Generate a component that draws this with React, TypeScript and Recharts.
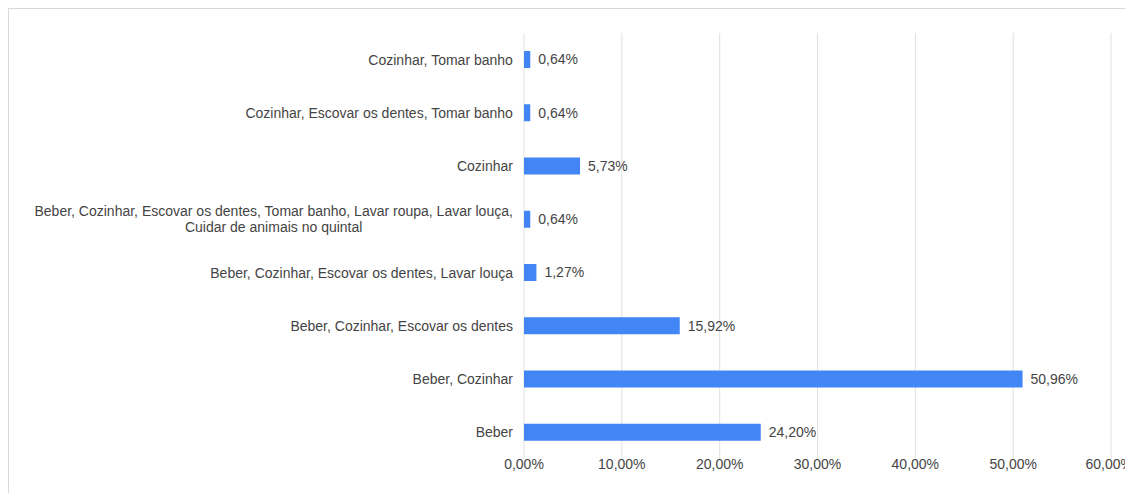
import React from 'react';
import {
  BarChart,
  Bar,
  XAxis,
  YAxis,
  CartesianGrid,
  LabelList,
} from 'recharts';

const categories = [
  'Cozinhar, Tomar banho',
  'Cozinhar, Escovar os dentes, Tomar banho',
  'Cozinhar',
  'Beber, Cozinhar, Escovar os dentes, Tomar banho, Lavar roupa, Lavar louça, Cuidar de animais no quintal',
  'Beber, Cozinhar, Escovar os dentes, Lavar louça',
  'Beber, Cozinhar, Escovar os dentes',
  'Beber, Cozinhar',
  'Beber',
];

const shares = [0.64, 0.64, 5.73, 0.64, 1.27, 15.92, 50.96, 24.2];

const xTicks = [0, 10, 20, 30, 40, 50, 60];

const FONT = '"Liberation Sans", Arial, sans-serif';
const TEXT = '#444444';

const fmtPct = (v: any) => `${Number(v).toFixed(2).replace('.', ',')}%`;

let ctx: CanvasRenderingContext2D | null = null;
function measure(s: string) {
  if (!ctx) {
    ctx = document.createElement('canvas').getContext('2d');
    if (ctx) ctx.font = `14px ${FONT}`;
  }
  return ctx ? ctx.measureText(s).width : s.length * 7;
}

// greedy word wrap, like the sheets axis does for long category names
function wrap(text: string, maxW: number) {
  const words = text.split(' ');
  const lines: string[] = [];
  let cur = '';
  words.forEach((w) => {
    const next = cur ? cur + ' ' + w : w;
    if (cur && measure(next) > maxW) {
      lines.push(cur);
      cur = w;
    } else {
      cur = next;
    }
  });
  if (cur) lines.push(cur);
  return lines;
}

function CategoryTick({ x, y, payload }: any) {
  const lines = wrap(payload.value, 495);
  const widest = Math.max(...lines.map(measure));
  const cx = x - widest / 2;
  const lineH = 16;
  const start = -((lines.length - 1) * lineH) / 2;
  return (
    <text textAnchor="middle" fill={TEXT} fontSize={14} fontFamily={FONT}>
      {lines.map((l, i) => (
        <tspan key={i} x={cx} y={y + start + i * lineH} dy="0.355em">
          {l}
        </tspan>
      ))}
    </text>
  );
}

export default function App() {
  const data = categories.map((name, i) => ({ name, value: shares[i] }));

  return (
    <div
      style={{
        width: 1125,
        height: 485,
        borderTop: '1px solid #d9d9d9',
        borderLeft: '1px solid #d9d9d9',
        background: '#fff',
        fontFamily: FONT,
        overflow: 'hidden',
      }}
    >
      <BarChart
        width={1124}
        height={484}
        data={data}
        layout="vertical"
        margin={{ top: 24, right: 22, left: 0, bottom: 4 }}
      >
        <CartesianGrid horizontal={false} stroke="#e0e0e0" />
        <XAxis
          type="number"
          domain={[0, 60]}
          ticks={xTicks}
          tickFormatter={fmtPct}
          axisLine={false}
          tickLine={false}
          tickSize={0}
          tickMargin={0}
          height={30}
          tick={{ fill: TEXT, fontSize: 14, fontFamily: FONT }}
        />
        <YAxis
          type="category"
          dataKey="name"
          width={515}
          axisLine={false}
          tickLine={false}
          tickSize={0}
          tickMargin={11}
          interval={0}
          tick={<CategoryTick />}
        />
        <Bar dataKey="value" fill="#4285f4" barSize={17} isAnimationActive={false}>
          <LabelList
            dataKey="value"
            position="right"
            offset={8}
            formatter={fmtPct}
            style={{ fontSize: 14, fill: TEXT, fontFamily: FONT }}
          />
        </Bar>
      </BarChart>
    </div>
  );
}
